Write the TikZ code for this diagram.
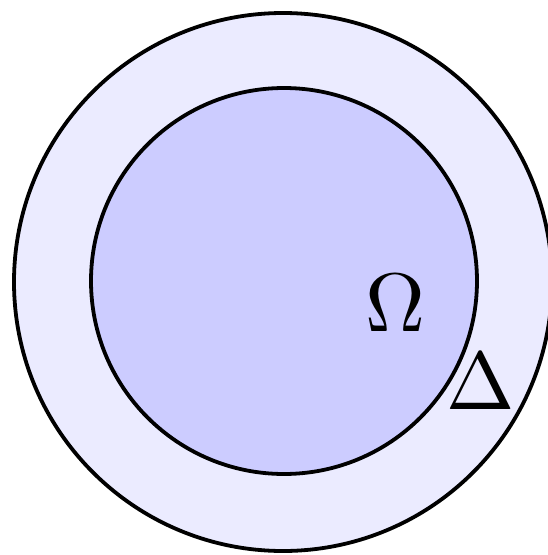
\documentclass[tikz,border=0pt]{standalone}
\usepackage{graphicx}
\begin{document}
\begin{tikzpicture}[x=1pt,y=-1pt,
  ring/.style={draw=black,line width=3.8pt},
  lbl/.style={inner sep=0pt}]
\useasboundingbox (0,0) rectangle (548,555);
\begin{scope}
\clip (0,0) rectangle (548,555);
\draw[ring,fill=blue!8] (283,282) circle[radius=269];
\draw[ring,fill=blue!20] (284,281) circle[radius=193];
\end{scope}
\node[lbl] (omega) at (395,303.5) {\scalebox{8.3}{$\Omega$}};
\node[lbl] (delta) at (481,381) {\scalebox{8.2}{$\Delta$}};
\end{tikzpicture}
\end{document}
